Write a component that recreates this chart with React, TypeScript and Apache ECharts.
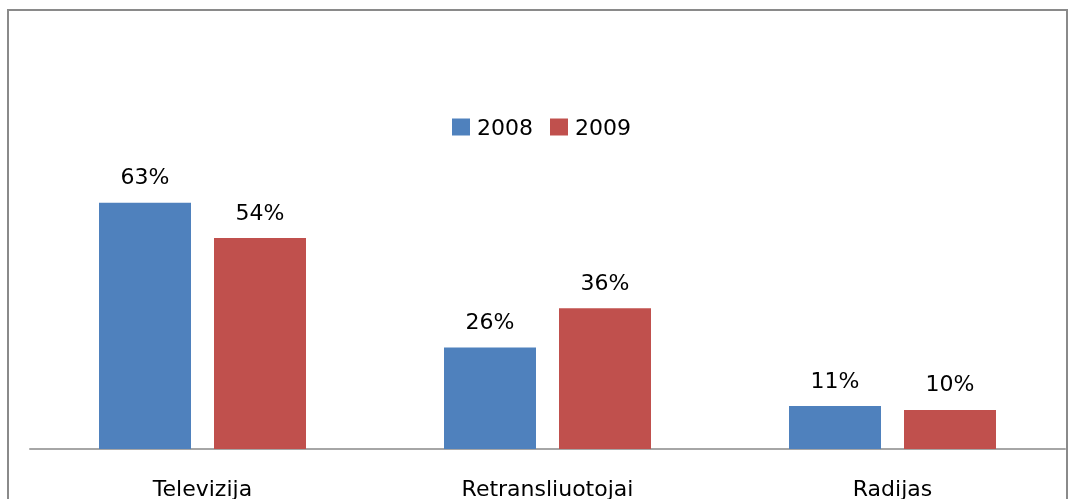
import React, { useEffect, useRef } from "react";
import * as echarts from "echarts";

const categories = ["Televizija", "Retransliuotojai", "Radijas"];
const seriesNames = ["2008", "2009"];
const values2008 = [63, 26, 11];
const values2009 = [54, 36, 10];

const FONT = "DejaVu Sans";
const FS = 22;

export default function App() {
  const ref = useRef<HTMLDivElement>(null);
  useEffect(() => {
    if (!ref.current) return;
    const chart = echarts.init(ref.current, undefined, { renderer: "svg" });
    const labelStyle = {
      show: true,
      position: "top",
      distance: 15,
      formatter: "{c}%",
      fontFamily: FONT,
      fontSize: FS,
      color: "#000",
    };
    chart.setOption({
      animation: false,
      textStyle: { fontFamily: FONT },
      graphic: [
        {
          type: "rect",
          shape: { x: 8, y: 10, width: 1059, height: 700 },
          style: { fill: "none", stroke: "#8a8a8a", lineWidth: 2 },
          silent: true,
        },
      ],
      legend: {
        data: seriesNames,
        left: 447,
        top: 111,
        icon: "rect",
        itemWidth: 18,
        itemHeight: 17,
        itemGap: 17,
        textStyle: { fontFamily: FONT, fontSize: FS, color: "#000", padding: [0, 0, 0, 2] },
      },
      grid: { left: 30, right: 5, top: 58.3, bottom: 47, containLabel: false },
      xAxis: {
        type: "category",
        data: categories,
        axisLine: { lineStyle: { color: "#a6a6a6", width: 2 } },
        axisTick: { show: false },
        axisLabel: { fontFamily: FONT, fontSize: FS, color: "#000", margin: 28 },
      },
      yAxis: {
        type: "value",
        min: 0,
        max: 100,
        show: false,
        splitLine: { show: false },
      },
      series: [
        {
          name: seriesNames[0],
          type: "bar",
          data: values2008,
          barGap: "25%",
          barCategoryGap: "40%",
          itemStyle: { color: "#4F81BD" },
          label: labelStyle,
        },
        {
          name: seriesNames[1],
          type: "bar",
          data: values2009,
          barGap: "25%",
          barCategoryGap: "40%",
          itemStyle: { color: "#C0504D" },
          label: labelStyle,
        },
      ],
    });
    return () => chart.dispose();
  }, []);
  return (
    <div
      ref={ref}
      style={{ position: "fixed", left: 0, top: 0, width: 1070, height: 499, overflow: "hidden" }}
    />
  );
}
